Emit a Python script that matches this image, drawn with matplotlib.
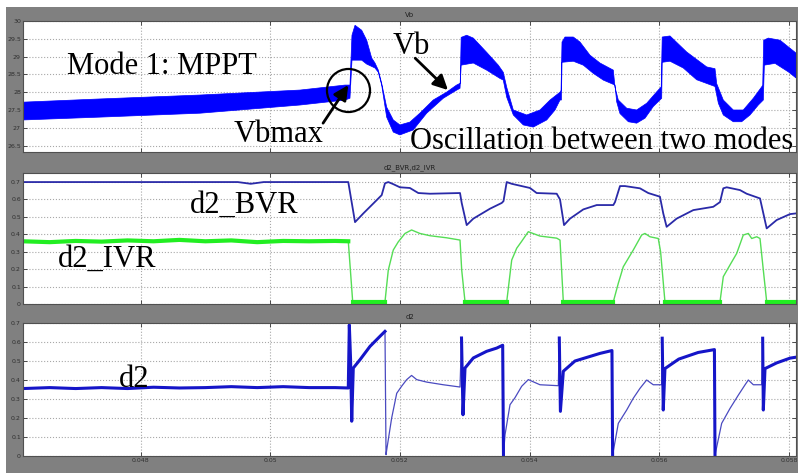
import numpy as np
import matplotlib
matplotlib.use("Agg")
import matplotlib.pyplot as plt
from matplotlib.patches import Rectangle

# ---------------- data ----------------
# Vb ripple band: upper and lower envelope (time in s, volts)
vb_hi_t = [0.046188, 0.047375, 0.048917, 0.050460, 0.051153, 0.051230, 0.051261, 0.051308,
           0.051411, 0.051488, 0.051565, 0.051616, 0.051667, 0.051719, 0.051796, 0.051898,
           0.052000, 0.052154, 0.052308, 0.052514, 0.052720, 0.052874, 0.052930, 0.052945,
           0.053030, 0.053132, 0.053338, 0.053517, 0.053594, 0.053647, 0.053749, 0.053955,
           0.054160, 0.054315, 0.054469, 0.054485, 0.054500, 0.054546, 0.054674, 0.054777,
           0.054931, 0.055085, 0.055291, 0.055317, 0.055368, 0.055497, 0.055651, 0.055806,
           0.055960, 0.056030, 0.056045, 0.056165, 0.056422, 0.056731, 0.056859, 0.056885,
           0.056987, 0.057141, 0.057295, 0.057450, 0.057579, 0.057595, 0.057610, 0.057681,
           0.057862, 0.058108]
vb_hi = [27.72, 27.81, 27.92, 28.06, 28.20, 28.20, 29.60, 29.88,
         29.74, 29.46, 28.96, 28.82, 28.62, 28.25, 27.58, 27.22,
         27.08, 27.16, 27.41, 27.78, 28.00, 28.20, 28.25, 29.54,
         29.60, 29.52, 29.12, 28.76, 28.56, 28.14, 27.50, 27.36,
         27.50, 27.78, 28.00, 28.05, 29.41, 29.55, 29.55, 29.41,
         29.04, 28.82, 28.62, 28.14, 27.78, 27.55, 27.50, 27.69,
         28.01, 28.15, 29.55, 29.58, 29.13, 28.71, 28.66, 28.24,
         27.78, 27.50, 27.50, 27.83, 28.15, 28.20, 29.46, 29.52,
         29.46, 29.10]

vb_lo_t = [0.046188, 0.047375, 0.048917, 0.050460, 0.051153, 0.051230, 0.051261, 0.051411,
           0.051488, 0.051616, 0.051667, 0.051719, 0.051796, 0.051898, 0.052000, 0.052206,
           0.052413, 0.052669, 0.052876, 0.052927, 0.052945, 0.053132, 0.053338, 0.053540,
           0.053594, 0.053647, 0.053749, 0.053903, 0.054057, 0.054264, 0.054392, 0.054469,
           0.054490, 0.054500, 0.054674, 0.054828, 0.054982, 0.055137, 0.055317, 0.055343,
           0.055394, 0.055523, 0.055651, 0.055780, 0.055908, 0.056037, 0.056045, 0.056165,
           0.056370, 0.056576, 0.056859, 0.056911, 0.056987, 0.057141, 0.057270, 0.057399,
           0.057527, 0.057604, 0.057620, 0.057785, 0.057991, 0.058108]
vb_lo = [27.22, 27.30, 27.41, 27.64, 27.78, 27.83, 28.90, 28.90,
         28.79, 28.68, 28.56, 28.20, 27.30, 26.88, 26.80, 26.94,
         27.41, 27.83, 28.06, 28.11, 28.76, 28.82, 28.62, 28.39,
         28.34, 27.86, 27.36, 27.08, 27.02, 27.22, 27.50, 27.78,
         27.78, 28.84, 28.87, 28.76, 28.53, 28.34, 28.20, 27.73,
         27.40, 27.17, 27.13, 27.27, 27.60, 27.83, 28.84, 28.87,
         28.68, 28.35, 28.16, 27.69, 27.36, 27.17, 27.17, 27.36,
         27.64, 27.78, 28.76, 28.81, 28.57, 28.40]

# duty cycles of the two regulators
bvr_t = [0.046188, 0.049500, 0.049700, 0.049900, 0.051204, 0.051308, 0.051436, 0.051590,
         0.051719, 0.051770, 0.051821, 0.051898, 0.052000, 0.052154, 0.052284, 0.052464,
         0.052927, 0.052953, 0.053030, 0.053132, 0.053389, 0.053570, 0.053597, 0.053647,
         0.053724, 0.054006, 0.054109, 0.054418, 0.054469, 0.054531, 0.054623, 0.054828,
         0.055035, 0.055291, 0.055317, 0.055394, 0.055470, 0.055702, 0.055830, 0.056010,
         0.056061, 0.056113, 0.056267, 0.056524, 0.056832, 0.056936, 0.056987, 0.057039,
         0.057244, 0.057347, 0.057553, 0.057656, 0.057810, 0.058015, 0.058108]
bvr = [0.70, 0.70, 0.69, 0.70, 0.70, 0.47, 0.52, 0.577,
       0.625, 0.693, 0.70, 0.688, 0.67, 0.666, 0.637, 0.633,
       0.637, 0.58, 0.453, 0.49, 0.547, 0.58, 0.59, 0.70,
       0.69, 0.666, 0.637, 0.633, 0.60, 0.453, 0.49, 0.543,
       0.568, 0.568, 0.585, 0.677, 0.677, 0.664, 0.637, 0.616,
       0.52, 0.443, 0.49, 0.539, 0.558, 0.585, 0.664, 0.67,
       0.654, 0.633, 0.606, 0.434, 0.482, 0.516, 0.52]

ivr_t = [0.046188, 0.046600, 0.047000, 0.047400, 0.047800, 0.048200, 0.048600, 0.049000,
         0.049400, 0.049800, 0.050200, 0.050600, 0.051000, 0.051204, 0.051272, 0.051770,
         0.051821, 0.051898, 0.051975, 0.052079, 0.052180, 0.052308, 0.052464, 0.052722,
         0.052927, 0.052953, 0.053004, 0.053647, 0.053724, 0.053801, 0.053878, 0.053980,
         0.054160, 0.054418, 0.054469, 0.054520, 0.055291, 0.055368, 0.055445, 0.055599,
         0.055728, 0.055779, 0.055856, 0.055984, 0.056020, 0.056087, 0.056936, 0.056987,
         0.057090, 0.057193, 0.057295, 0.057373, 0.057425, 0.057502, 0.057553, 0.057604,
         0.057656, 0.058108]
ivr = [0.360, 0.355, 0.362, 0.358, 0.365, 0.360, 0.368, 0.360,
       0.365, 0.355, 0.362, 0.360, 0.362, 0.360, 0.013, 0.013,
       0.195, 0.310, 0.357, 0.405, 0.425, 0.405, 0.392, 0.380,
       0.367, 0.195, 0.013, 0.013, 0.252, 0.320, 0.360, 0.415,
       0.390, 0.378, 0.367, 0.013, 0.013, 0.119, 0.214, 0.310,
       0.396, 0.405, 0.386, 0.376, 0.300, 0.013, 0.013, 0.157,
       0.224, 0.290, 0.396, 0.405, 0.376, 0.386, 0.376, 0.195,
       0.013, 0.013]

d2_t = [0.046188, 0.046600, 0.047000, 0.047400, 0.047800, 0.048200, 0.048600, 0.049000,
        0.049400, 0.049800, 0.050200, 0.050600, 0.051000, 0.051204, 0.051220, 0.051240,
        0.051257, 0.051281, 0.051385, 0.051539, 0.051693, 0.051770, 0.051786, 0.051800,
        0.051873, 0.051951, 0.052026, 0.052105, 0.052180, 0.052259, 0.052413, 0.052669,
        0.052927, 0.052950, 0.052973, 0.053004, 0.053132, 0.053338, 0.053493, 0.053585,
        0.053597, 0.053621, 0.053698, 0.053775, 0.053878, 0.053980, 0.054160, 0.054443,
        0.054458, 0.054475, 0.054520, 0.054700, 0.055085, 0.055270, 0.055280, 0.055368,
        0.055497, 0.055599, 0.055702, 0.055805, 0.055907, 0.056036, 0.056045, 0.056061,
        0.056087, 0.056300, 0.056600, 0.056850, 0.056859, 0.056962, 0.057090, 0.057218,
        0.057321, 0.057373, 0.057450, 0.057579, 0.057594, 0.057604, 0.057630, 0.057810,
        0.058015, 0.058108]
d2 = [0.355, 0.360, 0.355, 0.360, 0.355, 0.362, 0.358, 0.360,
      0.365, 0.360, 0.365, 0.360, 0.360, 0.358, 0.690, 0.500,
      0.183, 0.463, 0.507, 0.577, 0.630, 0.656, 0.007, 0.040,
      0.200, 0.330, 0.367, 0.402, 0.424, 0.402, 0.389, 0.375,
      0.363, 0.621, 0.217, 0.463, 0.516, 0.551, 0.568, 0.583,
      0.007, 0.112, 0.270, 0.307, 0.367, 0.402, 0.375, 0.370,
      0.621, 0.235, 0.446, 0.500, 0.540, 0.555, 0.005, 0.172,
      0.242, 0.304, 0.356, 0.400, 0.375, 0.375, 0.620, 0.242,
      0.460, 0.510, 0.545, 0.560, 0.005, 0.172, 0.250, 0.320,
      0.374, 0.400, 0.375, 0.375, 0.620, 0.242, 0.460, 0.490,
      0.515, 0.520]

vbmax_t, vbmax_v = 0.051204, 28.06

x_ticks = [0.048, 0.05, 0.052, 0.054, 0.056, 0.058]
x_labels = ["0.048", "0.05", "0.052", "0.054", "0.056", "0.058"]
vb_ticks = [26.5, 27, 27.5, 28, 28.5, 29, 29.5, 30]
vb_labels = ["26.5", "27", "27.5", "28", "28.5", "29", "29.5", "30"]
duty_ticks = [0, 0.1, 0.2, 0.3, 0.4, 0.5, 0.6, 0.7]
duty_labels = ["0", "0.1", "0.2", "0.3", "0.4", "0.5", "0.6", "0.7"]

# ---------------- figure ----------------
GRAY = "#808080"
SERIF = ["Liberation Serif", "DejaVu Serif"]

fig = plt.figure(figsize=(7.98, 4.73), dpi=100, facecolor="white")
fig.patches.append(Rectangle((6 / 798, 0), 1, 1 - 7 / 473, transform=fig.transFigure,
                             facecolor=GRAY, edgecolor="none", zorder=-10))

left, width = 23 / 798, 773 / 798
ax1 = fig.add_axes([left, 1 - 152 / 473, width, 131 / 473])
ax2 = fig.add_axes([left, 1 - 304 / 473, width, 131 / 473])
ax3 = fig.add_axes([left, 1 - 456 / 473, width, 133 / 473])

for ax, title in zip([ax1, ax2, ax3], ["Vb", "d2_BVR,d2_IVR", "d2"]):
    ax.set_facecolor("white")
    ax.set_xlim(0.046188, 0.058108)
    ax.set_xticks(x_ticks)
    ax.grid(True, linestyle=":", color="#a8a8a8", linewidth=0.8)
    ax.set_axisbelow(True)
    ax.tick_params(direction="in", length=3, width=0.6, colors="#303030",
                   labelsize=4.5, pad=1.5, top=True, right=True)
    for sp in ax.spines.values():
        sp.set_color("#505050")
        sp.set_linewidth(0.8)
    ax.set_title(title, fontsize=5, color="#202020", pad=3)

ax1.set_xticklabels([])
ax2.set_xticklabels([])
ax3.set_xticklabels(x_labels)

# Vb panel
ax1.set_ylim(26.32, 30.0)
ax1.set_yticks(vb_ticks)
ax1.set_yticklabels(vb_labels)
ax1.fill(np.concatenate([vb_hi_t, vb_lo_t[::-1]]), np.concatenate([vb_hi, vb_lo[::-1]]),
         color="#0000ff", linewidth=0.5)
ax1.plot([vbmax_t], [vbmax_v], "o", ms=31, mfc="none", mec="black", mew=1.6)
ax1.text(0.046867, 28.507, "Mode 1: MPPT", fontsize=22, family=SERIF)
ax1.text(0.051894, 29.087, "Vb", fontsize=22, family=SERIF)
ax1.text(0.049442, 26.60, "Vbmax", fontsize=22, family=SERIF)
ax1.text(0.052156, 26.406, "Oscillation between two modes", fontsize=22, family=SERIF)
arrow = dict(arrowstyle="-|>", mutation_scale=22, lw=2, color="black", shrinkA=0, shrinkB=0)
ax1.annotate("", xy=(0.051204, 28.20), xytext=(0.050815, 27.13), arrowprops=arrow)
ax1.annotate("", xy=(0.052741, 28.06), xytext=(0.052236, 28.955), arrowprops=arrow)

# BVR / IVR panel
ax2.set_ylim(0, 0.752)
ax2.set_yticks(duty_ticks)
ax2.set_yticklabels(duty_labels)
ivr_t_a, ivr_a = np.array(ivr_t), np.array(ivr)
ax2.plot(ivr_t_a, ivr_a, color="#55dd55", lw=1.0)
mppt = ivr_t_a <= 0.051204
ax2.plot(ivr_t_a[mppt], ivr_a[mppt], color="#22ee22", lw=3.0)
ax2.plot(ivr_t_a, np.where((ivr_a < 0.03) & ~mppt, ivr_a, np.nan), color="#22ee22", lw=3.0)
ax2.plot(bvr_t, bvr, color="#2a2aa8", lw=1.3)
ax2.text(0.048763, 0.522, "d2_BVR", fontsize=22, family=SERIF)
ax2.text(0.046728, 0.212, "d2_IVR", fontsize=22, family=SERIF)

# d2 panel
ax3.set_ylim(0, 0.7)
ax3.set_yticks(duty_ticks)
ax3.set_yticklabels(duty_labels)
d2_t_a, d2_a = np.array(d2_t), np.array(d2)
ax3.plot(d2_t_a, d2_a, color="#4a4ac0", lw=0.9)
high = ((d2_t_a <= 0.051204) | ((d2_t_a >= 0.05122) & (d2_t_a <= 0.05177))
        | ((d2_t_a >= 0.05294) & (d2_t_a <= 0.05360))
        | ((d2_t_a >= 0.05445) & (d2_t_a <= 0.05529))
        | ((d2_t_a >= 0.05604) & (d2_t_a <= 0.05686))
        | (d2_t_a >= 0.05759))
ax3.plot(d2_t_a, np.where(high, d2_a, np.nan), color="#1515c8", lw=2.2)
ax3.text(0.047668, 0.363, "d2", fontsize=22, family=SERIF)

fig.savefig("out.png", dpi=100, facecolor=fig.get_facecolor())
